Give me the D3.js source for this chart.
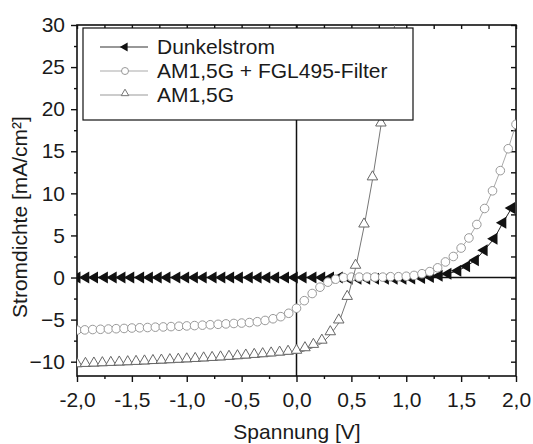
<!DOCTYPE html>
<html>
<head>
<meta charset="utf-8">
<script src="https://cdn.jsdelivr.net/npm/d3@7"></script>
<style>
    body { margin: 0; background: #fff; }
    text { font-family: "Liberation Sans", Arial, sans-serif; fill: #1a1a1a; }
</style>
</head>
<body>
<div id="chart"></div>
<script>
// Dunkelstrom (dark current)
const darkV = [-2.00, -1.92, -1.84, -1.75, -1.67, -1.59, -1.51, -1.42, -1.34, -1.26, -1.18, -1.09, -1.01,
    -0.93, -0.85, -0.76, -0.68, -0.60, -0.52, -0.43, -0.35, -0.27, -0.19, -0.10, -0.02, 0.06, 0.15, 0.23,
    0.31, 0.39, 0.48, 0.56, 0.64, 0.72, 0.81, 0.89, 0.97, 1.05, 1.14, 1.22, 1.30, 1.38, 1.47, 1.55, 1.63,
    1.71, 1.80, 1.88, 1.96]
const darkJ = [0, 0, 0, 0, 0, 0, 0, 0, 0, 0, 0, 0, 0,
    0, 0, 0, 0, 0, 0, 0, 0, 0, 0, 0, 0, 0, 0, 0,
    0, 0, -0.15, -0.15, -0.15, -0.15, -0.15, -0.15, -0.15, -0.12, -0.05, 0.05, 0.2, 0.45, 0.8, 1.35, 2.05,
    3.25, 4.6, 6.5, 8.25]

// AM1,5G + FGL495-Filter
const filterV = [-2.000, -1.929, -1.857, -1.786, -1.714, -1.643, -1.571, -1.500, -1.429, -1.357, -1.286,
    -1.214, -1.143, -1.071, -1.000, -0.929, -0.857, -0.786, -0.714, -0.643, -0.571, -0.500, -0.429,
    -0.357, -0.286, -0.214, -0.143, -0.071, 0.000, 0.071, 0.143, 0.214, 0.286, 0.357, 0.429, 0.500,
    0.571, 0.643, 0.714, 0.786, 0.857, 0.929, 1.000, 1.071, 1.143, 1.214, 1.286, 1.357, 1.429, 1.500,
    1.571, 1.643, 1.714, 1.786, 1.857, 1.929, 2.000]
const filterJ = [-6.25, -6.22, -6.18, -6.15, -6.12, -6.08, -6.05, -6.0, -5.97, -5.94, -5.9,
    -5.87, -5.83, -5.79, -5.75, -5.71, -5.66, -5.61, -5.56, -5.51, -5.46, -5.41, -5.35,
    -5.25, -5.1, -4.9, -4.65, -4.25, -3.65, -2.75, -1.9, -1.15, -0.55, -0.2, 0.0, 0.05,
    0.05, 0.05, 0.05, 0.05, 0.1, 0.1, 0.15, 0.25, 0.45, 0.7, 1.15, 1.85, 2.5, 3.5,
    4.7, 6.3, 8.2, 10.3, 12.7, 15.3, 18.2]

// AM1,5G
const amV = [-2.000, -1.923, -1.846, -1.769, -1.692, -1.615, -1.538, -1.462, -1.385, -1.308, -1.231,
    -1.154, -1.077, -1.000, -0.923, -0.846, -0.769, -0.692, -0.615, -0.538, -0.462, -0.385, -0.308,
    -0.231, -0.154, -0.077, 0.000, 0.077, 0.154, 0.231, 0.308, 0.385, 0.462, 0.538, 0.615, 0.692,
    0.769, 0.846, 0.923]
const amJ = [-10.6, -10.56, -10.52, -10.48, -10.44, -10.4, -10.36, -10.32, -10.27, -10.22, -10.17,
    -10.12, -10.07, -10.02, -9.97, -9.91, -9.85, -9.79, -9.72, -9.65, -9.57, -9.49, -9.41,
    -9.32, -9.22, -9.12, -9.0, -8.7, -8.3, -7.8, -6.8, -5.4, -2.6, 1.1, 6.0, 11.6,
    18.0, 25, 33]

const seriesNames = ["Dunkelstrom", "AM1,5G + FGL495-Filter", "AM1,5G"]
const xTicks = [-2, -1.5, -1, -0.5, 0, 0.5, 1, 1.5, 2]
const xMinor = [-1.75, -1.25, -0.75, -0.25, 0.25, 0.75, 1.25, 1.75]
const yTicks = [-10, -5, 0, 5, 10, 15, 20, 25, 30]
const yMinor = [-7.5, -2.5, 2.5, 7.5, 12.5, 17.5, 22.5, 27.5]

function drawChart() {
    const dimensions = {
        width: 533,
        height: 444,
        margins: { top: 25, right: 17, bottom: 68, left: 77 }
    }
    dimensions.boundedWidth = dimensions.width - dimensions.margins.left - dimensions.margins.right
    dimensions.boundedHeight = dimensions.height - dimensions.margins.top - dimensions.margins.bottom

    const wrapper = d3.select("#chart").append("svg")
        .attr("width", dimensions.width)
        .attr("height", dimensions.height)

    const bounds = wrapper.append("g")
        .attr("transform", `translate(${dimensions.margins.left}, ${dimensions.margins.top})`)

    bounds.append("clipPath").attr("id", "plotClip")
        .append("rect")
        .attr("width", dimensions.boundedWidth)
        .attr("height", dimensions.boundedHeight)

    // Scales
    const xScale = d3.scaleLinear()
        .domain([-2, 2])
        .range([0, dimensions.boundedWidth])
    const yScale = d3.scaleLinear()
        .domain([-11.7, 30])
        .range([dimensions.boundedHeight, 0])

    const fmtX = d => d.toFixed(1).replace(".", ",")

    // Axes
    bounds.append("g")
        .attr("transform", `translate(0, ${dimensions.boundedHeight})`)
        .call(d3.axisBottom(xScale).tickValues(xTicks).tickFormat(fmtX).tickSize(6).tickPadding(10))
    bounds.append("g")
        .attr("transform", `translate(0, ${dimensions.boundedHeight})`)
        .call(d3.axisBottom(xScale).tickValues(xMinor).tickFormat("").tickSize(3))

    bounds.append("g")
        .call(d3.axisLeft(yScale).tickValues(yTicks).tickSize(6).tickPadding(6))
    bounds.append("g")
        .call(d3.axisLeft(yScale).tickValues(yMinor).tickFormat("").tickSize(3))

    bounds.append("g")
        .call(d3.axisTop(xScale).tickValues(xTicks.concat(xMinor)).tickFormat("").tickSize(-4))
    bounds.append("g")
        .attr("transform", `translate(${dimensions.boundedWidth}, 0)`)
        .call(d3.axisRight(yScale).tickValues(yTicks.concat(yMinor)).tickFormat("").tickSize(-5))

    bounds.selectAll(".domain").remove()
    bounds.selectAll(".tick line").attr("stroke", "#111").attr("stroke-width", 1.4)
    bounds.selectAll(".tick text")
        .attr("font-size", "21px")
        .attr("fill", "#1a1a1a")

    // Frame
    bounds.append("rect")
        .attr("width", dimensions.boundedWidth)
        .attr("height", dimensions.boundedHeight)
        .attr("fill", "none")
        .attr("stroke", "#111")
        .attr("stroke-width", 1.6)

    // Zero lines
    bounds.append("line")
        .attr("x1", xScale(0)).attr("x2", xScale(0))
        .attr("y1", 0).attr("y2", dimensions.boundedHeight)
        .attr("stroke", "#111").attr("stroke-width", 1.5)
    bounds.append("line")
        .attr("x1", 0).attr("x2", dimensions.boundedWidth)
        .attr("y1", yScale(0)).attr("y2", yScale(0))
        .attr("stroke", "#111").attr("stroke-width", 1.5)

    const plot = bounds.append("g").attr("clip-path", "url(#plotClip)")

    const lineGen = d3.line()
        .x(d => xScale(d[0]))
        .y(d => yScale(d[1]))

    const darkData = darkV.map((v, i) => [v, darkJ[i]])
    const filterData = filterV.map((v, i) => [v, filterJ[i]])
    const amData = amV.map((v, i) => [v, amJ[i]])

    const triArea = side => Math.sqrt(3) / 4 * side * side
    const amSide = 10.5
    const amShift = amSide * Math.sqrt(3) / 2 / 3

    // Dunkelstrom
    plot.append("path")
        .attr("d", lineGen(darkData))
        .attr("fill", "none")
        .attr("stroke", "#222")
        .attr("stroke-width", 1)
    plot.selectAll(".dark")
        .data(darkData)
        .enter().append("path")
        .attr("class", "dark")
        .attr("d", d3.symbol(d3.symbolTriangle, triArea(12)))
        .attr("transform", d => `translate(${xScale(d[0])}, ${yScale(d[1])}) rotate(-90)`)
        .attr("fill", "#111")

    // AM1,5G + Filter
    plot.append("path")
        .attr("d", lineGen(filterData))
        .attr("fill", "none")
        .attr("stroke", "#aaa")
        .attr("stroke-width", 1)
    plot.selectAll(".filter")
        .data(filterData)
        .enter().append("circle")
        .attr("class", "filter")
        .attr("cx", d => xScale(d[0]))
        .attr("cy", d => yScale(d[1]))
        .attr("r", 4.3)
        .attr("fill", "#fff")
        .attr("stroke", "#999")
        .attr("stroke-width", 1)

    // AM1,5G
    plot.append("path")
        .attr("d", lineGen(amData))
        .attr("fill", "none")
        .attr("stroke", "#777")
        .attr("stroke-width", 1)
    plot.selectAll(".am")
        .data(amData)
        .enter().append("path")
        .attr("class", "am")
        .attr("d", d3.symbol(d3.symbolTriangle, triArea(amSide)))
        .attr("transform", d => `translate(${xScale(d[0])}, ${yScale(d[1]) - amShift})`)
        .attr("fill", "#fff")
        .attr("stroke", "#666")
        .attr("stroke-width", 1)

    // Axis titles
    wrapper.append("text")
        .attr("x", 297)
        .attr("y", 439)
        .attr("text-anchor", "middle")
        .attr("font-size", "21px")
        .text("Spannung [V]")
    wrapper.append("text")
        .attr("transform", "translate(27, 217) rotate(-90)")
        .attr("text-anchor", "middle")
        .attr("font-size", "21px")
        .text("Stromdichte [mA/cm²]")

    // Legend
    const legend = wrapper.append("g")
    legend.append("rect")
        .attr("x", 83).attr("y", 28)
        .attr("width", 330).attr("height", 92)
        .attr("fill", "#fff")
        .attr("stroke", "#111")
        .attr("stroke-width", 1.2)

    const legendStroke = ["#333", "#aaa", "#999"]
    const items = legend.selectAll(".item")
        .data(seriesNames)
        .enter().append("g")
        .attr("class", "item")
        .attr("transform", (d, i) => `translate(0, ${47 + i * 24})`)
    items.append("line")
        .attr("x1", 100).attr("x2", 148)
        .attr("stroke", (d, i) => legendStroke[i])
        .attr("stroke-width", 1.2)
    items.append("text")
        .attr("x", 157)
        .attr("dy", "0.35em")
        .attr("font-size", "21px")
        .text(d => d)

    items.filter((d, i) => i === 0).append("path")
        .attr("d", d3.symbol(d3.symbolTriangle, triArea(9)))
        .attr("transform", "translate(125, 0) rotate(-90)")
        .attr("fill", "#111")
    items.filter((d, i) => i === 1).append("circle")
        .attr("cx", 125).attr("r", 3.5)
        .attr("fill", "#fff").attr("stroke", "#999")
    items.filter((d, i) => i === 2).append("path")
        .attr("d", d3.symbol(d3.symbolTriangle, triArea(7.5)))
        .attr("transform", "translate(125, -1.5)")
        .attr("fill", "#fff").attr("stroke", "#777")
}

drawChart()
</script>
</body>
</html>
